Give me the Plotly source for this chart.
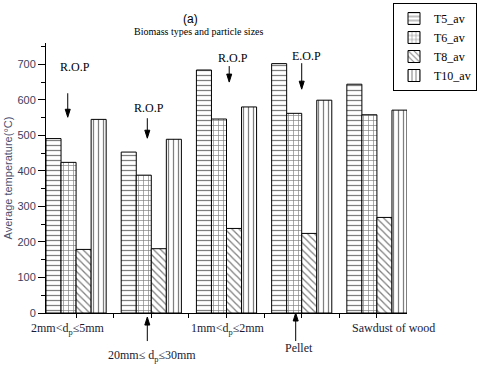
import plotly.graph_objects as go

groups = [0, 1, 2, 3, 4]
group_labels = ["2mm&lt;d<sub>p</sub>≤5mm", "20mm≤ d<sub>p</sub>≤30mm", "1mm&lt;d<sub>p</sub>≤2mm",
                "Pellet", "Sawdust of wood"]
series_names = ["T5_av", "T6_av", "T8_av", "T10_av"]
t5_av = [491, 453, 684, 702, 644]
t6_av = [424, 388, 546, 562, 558]
t8_av = [179, 181, 238, 224, 269]
t10_av = [545, 489, 580, 599, 571]
patterns = ["-", "+", "\\", "|"]

serif = "Liberation Serif"
sans = "Liberation Sans"

fig = go.Figure()
for name, vals, pat in zip(series_names, [t5_av, t6_av, t8_av, t10_av], patterns):
    fig.add_trace(go.Bar(
        x=groups, y=vals, name=name,
        marker=dict(color="white", line=dict(color="black", width=1),
                    pattern=dict(shape=pat, fgcolor="black", bgcolor="white",
                                 size=5, solidity=0.25)),
    ))

fig.update_layout(
    width=480, height=365,
    margin=dict(l=46, r=73, t=43, b=52, autoexpand=False),
    plot_bgcolor="white", paper_bgcolor="white",
    barmode="group", bargap=0.2, bargroupgap=0,
    legend=dict(x=(477 - 46) / 361, y=(313 - 3) / 270, xanchor="right", yanchor="top",
                bordercolor="black", borderwidth=1, bgcolor="white",
                font=dict(family=serif, size=12, color="black"),
                tracegroupgap=0, itemwidth=30),
    xaxis=dict(range=[-0.4, 4.4], showline=True, linecolor="black", linewidth=1,
               tickmode="linear", tick0=0, dtick=0.5, showticklabels=False,
               ticks="outside", ticklen=4, tickcolor="black", showgrid=False,
               zeroline=False),
    yaxis=dict(range=[0, 760], showline=True, linecolor="black", linewidth=1,
               tickmode="linear", tick0=0, dtick=100, ticks="outside", ticklen=7,
               tickcolor="black", showgrid=False, zeroline=False,
               minor=dict(dtick=50, ticks="outside", ticklen=4, tickcolor="black"),
               tickfont=dict(family=sans, size=11, color="#3d3d5c"),
               title=dict(text="Average temperature(°C)", standoff=2,
                          font=dict(family=sans, size=11, color="#4a5070"))),
)

ann = []
ann.append(dict(text="(a)", xref="paper", yref="paper", x=(190 - 46) / 361, y=(313 - 10) / 270,
                showarrow=False, font=dict(family=sans, size=12, color="black")))
ann.append(dict(text="Biomass types and particle sizes", xref="paper", yref="paper",
                x=(199 - 46) / 361, y=(313 - 24) / 270, showarrow=False,
                font=dict(family=serif, size=10, color="black")))


def arrow(x, y, length, yref="y", down=True):
    # arrow drawn in pixels, head at (x, y)
    s = 1 if down else -1
    path = (f"M0,{s * length} L0,{s * 6} "
            f"M-2.5,{s * 8} L2.5,{s * 8} L0,0 Z")
    return dict(type="path", xref="x", yref=yref, xsizemode="pixel", ysizemode="pixel",
                xanchor=x, yanchor=y, path=path, fillcolor="black",
                line=dict(color="black", width=1))


shapes = []
# top annotations (text + arrow)
top_notes = [("R.O.P", -0.013, 692, -0.111, 551, 24),
             ("R.O.P", 0.967, 577, 0.947, 492, 20),
             ("R.O.P", 2.08, 717, 2.036, 650, 16),
             ("E.O.P", 3.067, 723, 3.0, 630, 26)]
for txt, tx, ty, hx, hy, ln in top_notes:
    ann.append(dict(text=txt, x=tx, y=ty, xref="x", yref="y", showarrow=False,
                    font=dict(family=serif, size=12, color="black")))
    shapes.append(arrow(hx, hy, ln))

# x labels (anchored at the top of the text)
label_pos = [(-0.107, 319), (1.013, 346), (2.02, 319), (2.97, 339), (4.227, 319)]
for lab, (lx, py) in zip(group_labels, label_pos):
    ann.append(dict(text=lab, x=lx, y=(313 - py) / 270, xref="x", yref="paper",
                    yanchor="top", showarrow=False,
                    font=dict(family=serif, size=12, color="#1a1a33")))
shapes.append(arrow(0.947, -0.015, 24, yref="paper", down=False))
shapes.append(arrow(2.92, 0.0, 28, yref="paper", down=False))

fig.update_layout(annotations=ann, shapes=shapes)
fig.write_html("out.html", config={"displayModeBar": False},
               post_script="document.body.style.margin='0';")
